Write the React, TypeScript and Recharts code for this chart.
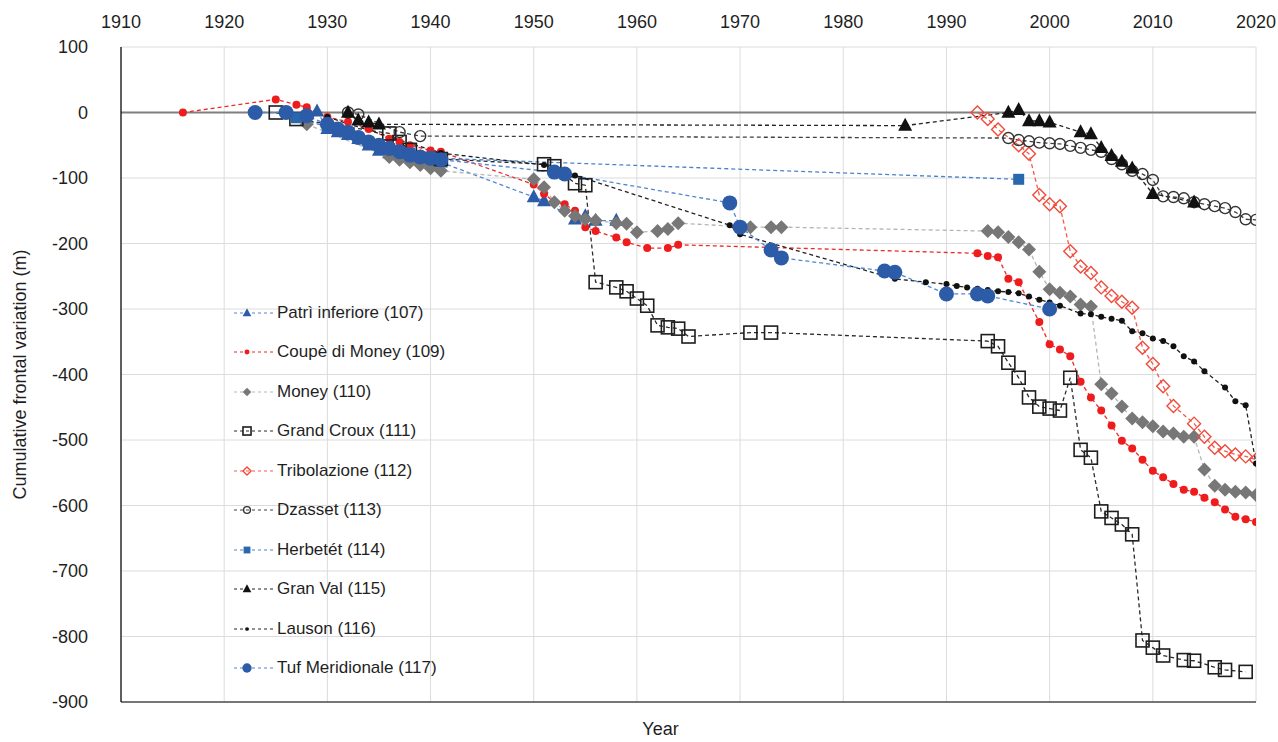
import React from 'react';
import {
  LineChart, Line, XAxis, YAxis, CartesianGrid, ReferenceLine, Label,
} from 'recharts';

// [year, cumulative frontal variation (m)]
const patriInferiore = [
  [1929, 2], [1930, -25], [1931, -30], [1932, -34], [1933, -40], [1934, -50], [1935, -58],
  [1936, -62], [1937, -60], [1938, -65], [1939, -68], [1940, -72], [1941, -76],
  [1950, -129], [1951, -135], [1954, -163], [1955, -158], [1956, -165], [1958, -165],
];

const coupeDiMoney = [
  [1916, 0], [1925, 20], [1927, 12], [1928, 8], [1930, -7], [1932, -14], [1934, -25],
  [1936, -40], [1937, -45], [1938, -50], [1940, -58], [1941, -60],
  [1950, -110], [1951, -124], [1952, -137], [1953, -140], [1954, -150], [1955, -175],
  [1956, -181], [1958, -191], [1959, -198], [1961, -207], [1963, -207], [1964, -202],
  [1993, -215], [1994, -219], [1995, -221], [1996, -254], [1997, -259], [1999, -320],
  [2000, -354], [2001, -362], [2002, -372], [2003, -411], [2004, -435], [2005, -455],
  [2006, -478], [2007, -501], [2008, -513], [2009, -530], [2010, -547], [2011, -557],
  [2012, -567], [2013, -576], [2014, -579], [2015, -588], [2016, -595], [2017, -606],
  [2018, -617], [2019, -621], [2020, -625],
];

const money = [
  [1928, -18], [1936, -68], [1937, -72], [1938, -76], [1939, -80], [1940, -85], [1941, -89],
  [1950, -102], [1951, -114], [1952, -137], [1953, -150], [1954, -158], [1955, -163],
  [1956, -165], [1958, -169], [1959, -170], [1960, -183], [1962, -181], [1963, -178],
  [1964, -169], [1971, -175], [1973, -175], [1974, -175],
  [1994, -181], [1995, -183], [1996, -190], [1997, -198], [1998, -209], [1999, -243],
  [2000, -270], [2001, -275], [2002, -281], [2003, -293], [2004, -296], [2005, -415],
  [2006, -429], [2007, -449], [2008, -467], [2009, -473], [2010, -479], [2011, -487],
  [2012, -490], [2013, -495], [2014, -495], [2015, -545], [2016, -570], [2017, -576],
  [2018, -579], [2019, -580], [2020, -584],
];

const grandCroux = [
  [1925, 0], [1927, -10], [1936, -32], [1937, -45], [1938, -57], [1941, -71],
  [1951, -79], [1952, -82], [1954, -108], [1955, -111], [1956, -259], [1958, -267],
  [1959, -273], [1960, -284], [1961, -295], [1962, -325], [1963, -328], [1964, -330],
  [1965, -342], [1971, -336], [1973, -336],
  [1994, -349], [1995, -357], [1996, -382], [1997, -405], [1998, -435], [1999, -449],
  [2000, -452], [2001, -455], [2002, -405], [2003, -515], [2004, -527], [2005, -609],
  [2006, -619], [2007, -629], [2008, -644], [2009, -806], [2010, -817], [2011, -829],
  [2013, -836], [2014, -837], [2016, -847], [2017, -851], [2019, -854],
];

const tribolazione = [
  [1993, 0], [1994, -10], [1995, -26], [1997, -50], [1998, -63], [1999, -126],
  [2000, -140], [2001, -143], [2002, -212], [2003, -235], [2004, -245], [2005, -267],
  [2006, -280], [2007, -289], [2008, -298], [2009, -359], [2010, -384], [2011, -418],
  [2012, -448], [2014, -475], [2015, -495], [2016, -512], [2017, -517], [2018, -522],
  [2019, -525], [2020, -530],
];

const dzasset = [
  [1932, 0], [1933, -3], [1937, -30], [1939, -36],
  [1996, -39], [1997, -42], [1998, -44], [1999, -46], [2000, -47], [2001, -48],
  [2002, -51], [2003, -54], [2004, -57], [2005, -60], [2006, -71], [2007, -79],
  [2008, -89], [2009, -94], [2010, -103], [2011, -128], [2012, -129], [2013, -131],
  [2014, -137], [2015, -140], [2016, -143], [2017, -146], [2018, -152], [2019, -163],
  [2020, -164],
];

const herbetet = [
  [1927, -8], [1930, -22], [1932, -32], [1934, -45], [1936, -55], [1938, -62],
  [1940, -68], [1941, -70], [1997, -102],
];

const granVal = [
  [1932, 0], [1933, -12], [1934, -15], [1935, -18], [1986, -20],
  [1996, 0], [1997, 4], [1998, -13], [1999, -13], [2000, -15], [2003, -30], [2004, -33],
  [2005, -54], [2006, -66], [2007, -75], [2008, -85], [2010, -124], [2014, -137],
];

const lauson = [
  [1930, -7], [1941, -62], [1951, -80], [1954, -96], [1969, -172], [1970, -186],
  [1985, -254], [1988, -259], [1990, -262], [1991, -265], [1992, -267], [1993, -269],
  [1994, -271], [1995, -273], [1996, -274], [1997, -276], [1998, -281], [1999, -286],
  [2000, -290], [2001, -295], [2003, -307], [2004, -308], [2005, -312], [2006, -315],
  [2007, -318], [2008, -334], [2009, -337], [2010, -345], [2011, -349], [2012, -357],
  [2013, -372], [2014, -380], [2015, -395], [2017, -420], [2018, -441], [2019, -447],
  [2020, -536],
];

const tufMeridionale = [
  [1923, 0], [1926, 0], [1928, -5], [1930, -18], [1931, -25], [1932, -30], [1933, -38],
  [1934, -45], [1935, -50], [1936, -55], [1937, -60], [1938, -65], [1939, -68],
  [1940, -70], [1941, -72], [1952, -91], [1953, -94], [1969, -138], [1970, -175],
  [1973, -210], [1974, -222], [1984, -242], [1985, -244], [1990, -277], [1993, -277],
  [1994, -280], [2000, -300],
];

const X_TICKS = [1910, 1920, 1930, 1940, 1950, 1960, 1970, 1980, 1990, 2000, 2010, 2020];
const Y_TICKS = [-900, -800, -700, -600, -500, -400, -300, -200, -100, 0, 100];

const SERIES = [
  { name: 'Patrì inferiore (107)', points: patriInferiore, marker: 'triangle', color: '#2C5BA8', line: '#4F86D6' },
  { name: 'Coupè di Money (109)', points: coupeDiMoney, marker: 'circle', color: '#EE1C1C', line: '#EE2A2A' },
  { name: 'Money (110)', points: money, marker: 'diamond', color: '#777777', line: '#B5B5B5' },
  { name: 'Grand Croux (111)', points: grandCroux, marker: 'openSquare', color: '#1E1E1E', line: '#2A2A2A' },
  { name: 'Tribolazione (112)', points: tribolazione, marker: 'openDiamond', color: '#F04A3A', line: '#F25A4A' },
  { name: 'Dzasset (113)', points: dzasset, marker: 'openCircle', color: '#333333', line: '#404040' },
  { name: 'Herbetét (114)', points: herbetet, marker: 'square', color: '#2A68AE', line: '#4A82CC' },
  { name: 'Gran Val (115)', points: granVal, marker: 'triangle', color: '#111111', line: '#222222' },
  { name: 'Lauson (116)', points: lauson, marker: 'dot', color: '#111111', line: '#222222' },
  { name: 'Tuf Meridionale (117)', points: tufMeridionale, marker: 'bigCircle', color: '#2C5BA8', line: '#4F86D6' },
];

const FONT = '"Liberation Sans", Arial, Helvetica, sans-serif';
const TEXT = '#1f1f1f';

function Marker({ cx, cy, kind, color, scale = 1 }: any) {
  if (cx == null || cy == null) return null;
  const k = scale;
  switch (kind) {
    case 'triangle': {
      const w = 7 * k, h = 13 * k;
      return <polygon points={`${cx},${cy - h * 0.6} ${cx - w},${cy + h * 0.4} ${cx + w},${cy + h * 0.4}`} fill={color} />;
    }
    case 'circle':
      return <circle cx={cx} cy={cy} r={4 * k} fill={color} />;
    case 'bigCircle':
      return <circle cx={cx} cy={cy} r={7.5 * k} fill={color} />;
    case 'dot':
      return <circle cx={cx} cy={cy} r={3 * k} fill={color} />;
    case 'diamond': {
      const d = 7 * k;
      return <polygon points={`${cx},${cy - d} ${cx + d},${cy} ${cx},${cy + d} ${cx - d},${cy}`} fill={color} />;
    }
    case 'openDiamond': {
      const d = 6.5 * k;
      return <polygon points={`${cx},${cy - d} ${cx + d},${cy} ${cx},${cy + d} ${cx - d},${cy}`} fill="none" stroke={color} strokeWidth={1.4} />;
    }
    case 'openSquare': {
      const d = 6.5 * k;
      return <rect x={cx - d} y={cy - d} width={2 * d} height={2 * d} fill="none" stroke={color} strokeWidth={1.6} />;
    }
    case 'square': {
      const d = 5.5 * k;
      return <rect x={cx - d} y={cy - d} width={2 * d} height={2 * d} fill={color} />;
    }
    case 'openCircle':
      return <circle cx={cx} cy={cy} r={5.5 * k} fill="none" stroke={color} strokeWidth={1.4} />;
    default:
      return null;
  }
}

export default function App() {
  return (
    <div style={{
      position: 'absolute', left: 0, top: 0, width: 1278, height: 742,
      background: '#fff', fontFamily: FONT,
    }}>
      <LineChart width={1278} height={742} margin={{ top: 10, right: 22, bottom: 0, left: 0 }}>
        <CartesianGrid xAxisId="top" stroke="#dcdcdc" strokeWidth={1} />
        <XAxis
          xAxisId="top" orientation="top" type="number" dataKey="year"
          domain={[1910, 2020]} ticks={X_TICKS} height={37}
          axisLine={false} tickLine={false} tickSize={0} tickMargin={19}
          tick={{ fill: TEXT, fontSize: 18, fontFamily: FONT }}
          allowDataOverflow
        />
        <XAxis
          xAxisId="bottom" orientation="bottom" type="number" dataKey="year"
          domain={[1910, 2020]} ticks={X_TICKS} height={40}
          tick={false} tickLine={false} axisLine={{ stroke: '#000', strokeWidth: 1.2 }}
        >
          <Label value="Year" position="insideBottom" offset={7} dx={-28}
            style={{ fill: TEXT, fontSize: 18, fontFamily: FONT }} />
        </XAxis>
        <YAxis
          type="number" domain={[-900, 100]} ticks={Y_TICKS} width={121}
          axisLine={{ stroke: '#000', strokeWidth: 1.2 }} tickLine={false} tickSize={0} tickMargin={33}
          tick={{ fill: TEXT, fontSize: 18, fontFamily: FONT }}
          allowDataOverflow
        >
          <Label value="Cumulative frontal variation (m)" angle={-90} position="insideLeft" offset={20}
            style={{ fill: TEXT, fontSize: 18, fontFamily: FONT, textAnchor: 'middle' }} />
        </YAxis>
        <ReferenceLine xAxisId="top" y={0} stroke="#7f7f7f" strokeWidth={2} />

        {SERIES.map(s => (
          <Line
            key={s.name}
            xAxisId="top"
            name={s.name}
            data={s.points.map(([year, value]) => ({ year, value }))}
            dataKey="value"
            type="linear"
            stroke={s.line}
            strokeWidth={1.3}
            strokeDasharray="4 3"
            dot={(p: any) => (
              <Marker key={`${s.name}-${p.index}`} cx={p.cx} cy={p.cy} kind={s.marker} color={s.color} />
            )}
            activeDot={false}
            isAnimationActive={false}
          />
        ))}
      </LineChart>

      {/* legend inside the plot area */}
      <div style={{ position: 'absolute', left: 222, top: 293, display: 'flex', flexDirection: 'column' }}>
        {SERIES.map(s => (
          <div key={s.name} style={{ height: 39.5, display: 'flex', alignItems: 'center' }}>
            <svg width={54} height={20}>
              <line x1={12} y1={10} x2={51} y2={10} stroke={s.line} strokeWidth={1.2} strokeDasharray="3 3" />
              <Marker cx={25} cy={10} kind={s.marker} color={s.color} scale={0.62} />
            </svg>
            <span style={{ fontSize: 17, color: TEXT, marginLeft: 1, whiteSpace: 'nowrap' }}>{s.name}</span>
          </div>
        ))}
      </div>
    </div>
  );
}
